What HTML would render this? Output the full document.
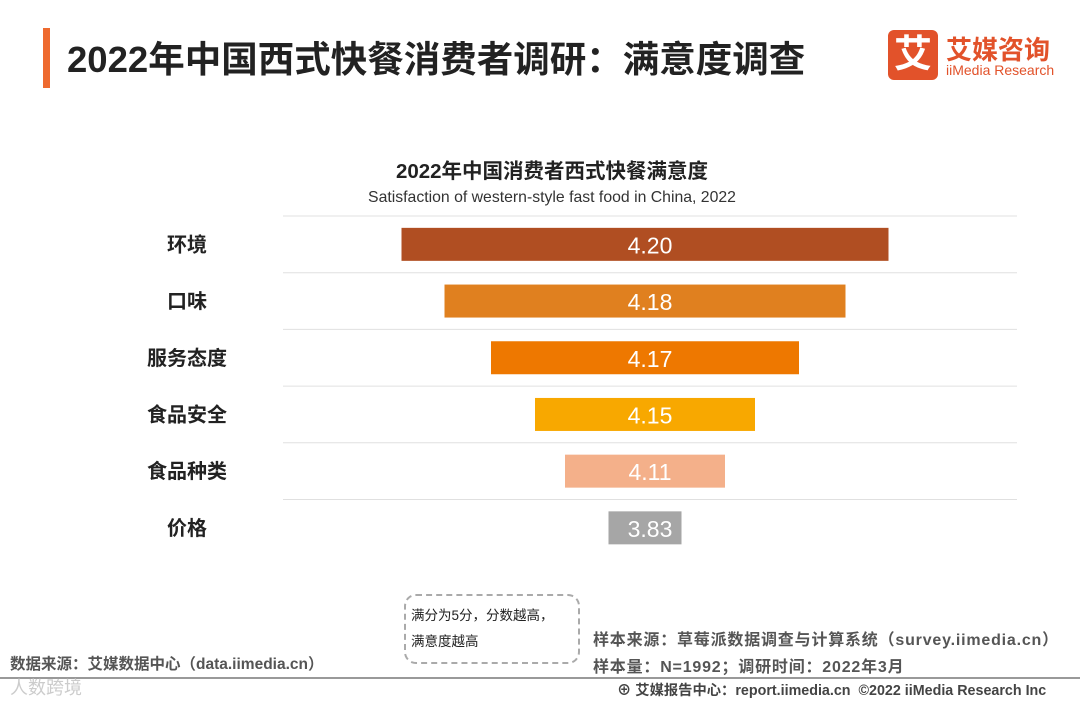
<!DOCTYPE html>
<html><head><meta charset="utf-8">
<style>
body{margin:0;width:1080px;height:702px;background:#fff;font-family:"Liberation Sans","Noto Sans CJK SC",sans-serif;position:relative;overflow:hidden}
.a{position:absolute;white-space:nowrap}
</style></head><body>
<div class="a" style="left:43px;top:28px;width:7px;height:60px;background:#ee6a2f"></div>
<div class="a" style="left:67px;top:30px;font-size:36.5px;font-weight:bold;color:#222">2022年中国西式快餐消费者调研：满意度调查</div>
<div class="a" style="left:888px;top:30px;width:50px;height:50px;background:#e2522a;border-radius:6px;color:#fff;font-size:38px;font-weight:bold;text-align:center;line-height:50px">艾</div>
<div class="a" style="left:946px;top:30px;font-size:26px;font-weight:bold;color:#e2522a">艾媒咨询</div>
<div class="a" style="left:946px;top:62px;font-size:14px;color:#e2522a">iiMedia Research</div>
<div class="a" style="left:0;width:1104px;text-align:center;top:154px;font-size:20.5px;font-weight:bold;color:#222">2022年中国消费者西式快餐满意度</div>
<div class="a" style="left:0;width:1104px;text-align:center;top:189px;font-size:15.8px;color:#333">Satisfaction of western-style fast food in China, 2022</div>
<svg id="chart" class="a" style="left:0;top:0" width="1080" height="702"></svg>
<div class="a" style="left:404px;top:594px;width:172px;height:66px;border:2px dashed #aaa;border-radius:12px"></div>
<div class="a" style="left:411px;top:603px;font-size:13.5px;line-height:26px;color:#222">满分为5分，分数越高，<br>满意度越高</div>
<div class="a" style="left:10px;top:652px;font-size:15.5px;color:#555;font-weight:bold">数据来源：艾媒数据中心（data.iimedia.cn）</div>
<div class="a" style="left:593px;top:626px;font-size:16px;letter-spacing:0.8px;color:#555;font-weight:bold">样本来源：草莓派数据调查与计算系统（survey.iimedia.cn）</div>
<div class="a" style="left:593px;top:653px;font-size:16px;letter-spacing:0.8px;color:#555;font-weight:bold">样本量：N=1992；调研时间：2022年3月</div>
<div class="a" style="left:0;top:677px;width:1080px;height:2px;background:#999"></div>
<div class="a" style="left:617px;top:679px;font-size:14.3px;color:#444;font-weight:bold">⊕ 艾媒报告中心：report.iimedia.cn &nbsp;©2022 iiMedia Research Inc</div>
<div class="a" style="left:10px;top:674px;font-size:18px;color:#ccc">人数跨境</div>
<script>
const categories=["环境","口味","服务态度","食品安全","食品种类","价格"];
const values=[4.20,4.18,4.17,4.15,4.11,3.83];
const labels=["4.20","4.18","4.17","4.15","4.11","3.83"];
const colors=["#b04e22","#e0801f","#ee7800","#f8a800","#f4b08a","#a6a6a6"];
const domainStops=[3.83,4.11,4.15,4.17,4.18,4.20];
const rangeStops=[73,160,220,308,401,487];
function widthScale(v){
  if(v<=domainStops[0])return rangeStops[0]+(v-domainStops[0])*(rangeStops[1]-rangeStops[0])/(domainStops[1]-domainStops[0]);
  for(let i=1;i<domainStops.length;i++){if(v<=domainStops[i]){const t=(v-domainStops[i-1])/(domainStops[i]-domainStops[i-1]);return rangeStops[i-1]+t*(rangeStops[i]-rangeStops[i-1]);}}
  const n=domainStops.length-1;return rangeStops[n]+(v-domainStops[n])*(rangeStops[n]-rangeStops[n-1])/(domainStops[n]-domainStops[n-1]);
}
const cx=645,top0=216,rowH=56.7,barH=33;
function yScale(i){return top0+i*rowH;}
const svg=document.getElementById('chart');const NS="http://www.w3.org/2000/svg";
function mk(t,a){const e=document.createElementNS(NS,t);for(const k in a)e.setAttribute(k,a[k]);svg.appendChild(e);return e;}
for(let i=0;i<categories.length;i++){
  const l=mk('line',{x1:283,x2:1017,y1:yScale(i),y2:yScale(i),stroke:'#e0e0e0','stroke-width':1});
  
  
}
categories.forEach((c,i)=>{
  const yc=yScale(i)+rowH/2;const w=widthScale(values[i]);
  const t=mk('text',{x:187,y:yc+7,'text-anchor':'middle','font-size':20,'font-weight':'bold',fill:'#222'});t.textContent=c;
  
  
  const r=mk('rect',{x:cx-w/2,y:yc-barH/2,width:w,height:barH,fill:colors[i]});
  
  
  const v=mk('text',{x:650,y:yc+9,'text-anchor':'middle','font-size':23,fill:'#fff'});v.textContent=labels[i];
  
  
});
</script>
</body></html>
